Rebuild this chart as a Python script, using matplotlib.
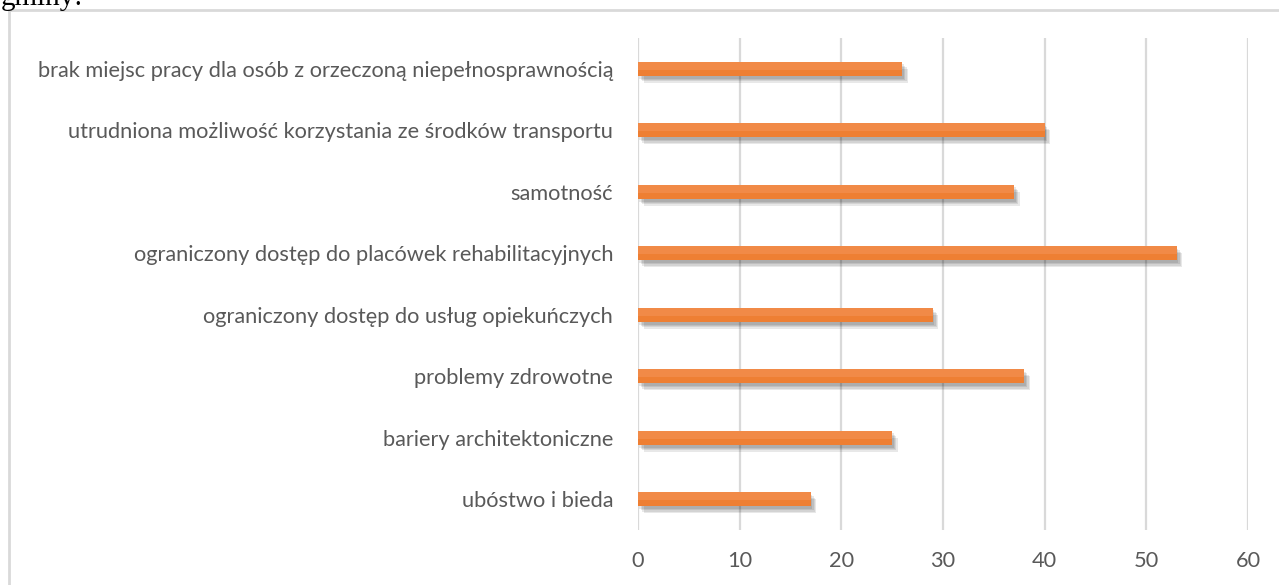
import matplotlib.pyplot as plt
import matplotlib.patheffects as pe
from matplotlib.lines import Line2D

categories = [
    "ubóstwo i bieda",
    "bariery architektoniczne",
    "problemy zdrowotne",
    "ograniczony dostęp do usług opiekuńczych",
    "ograniczony dostęp do placówek rehabilitacyjnych",
    "samotność",
    "utrudniona możliwość korzystania ze środków transportu",
    "brak miejsc pracy dla osób z orzeczoną niepełnosprawnością",
]
values = [17, 25, 38, 29, 53, 37, 40, 26]
xticks = [0, 10, 20, 30, 40, 50, 60]

plt.rcParams['font.family'] = ['Lato', 'DejaVu Sans']

fig = plt.figure(figsize=(12.79, 5.85), dpi=100)
ax = fig.add_axes([638 / 1279, 1 - 530 / 585, 610 / 1279, 492 / 585])

# soft drop shadow made of a few faint offset copies
shadow = [pe.SimplePatchShadow(offset=(o, -o - 1), shadow_rgbFace='black', alpha=0.09)
          for o in (1, 2, 3, 4)] + [pe.Normal()]
bars = ax.barh(range(len(categories)), values, height=0.23, color="#EE7F33", zorder=3)
for b in bars:
    b.set_path_effects(shadow)
# slightly lighter upper part, like the gradient fill
ax.barh([i + 0.05 for i in range(len(categories))], values, height=0.13,
        color="#F18A47", zorder=4, linewidth=0)

ax.set_xlim(0, 60)
ax.set_ylim(-0.5, len(categories) - 0.5)
ax.set_xticks(xticks)
ax.set_yticks(range(len(categories)))
ax.set_yticklabels(categories)
ax.grid(axis='x', color="#D9D9D9", linewidth=1.6, zorder=0)
ax.tick_params(length=0, labelsize=15.7, colors="#595959")
ax.tick_params(axis='y', pad=18)
ax.tick_params(axis='x', pad=15)
for s in ax.spines.values():
    s.set_visible(False)

# chart frame (left and top edges visible)
fig.add_artist(Line2D([9 / 1279, 9 / 1279], [0, 1 - 10 / 585], transform=fig.transFigure,
                      color="#D9D9D9", linewidth=2))
fig.add_artist(Line2D([9 / 1279, 1], [1 - 10 / 585, 1 - 10 / 585], transform=fig.transFigure,
                      color="#D9D9D9", linewidth=2))

# cut-off text from the document above the chart
fig.text(1 / 1279, 1 - 5 / 585, "gminy:", family="Liberation Serif", fontsize=21,
         va='baseline', ha='left', color="black")

fig.savefig("out.png", dpi=100)
